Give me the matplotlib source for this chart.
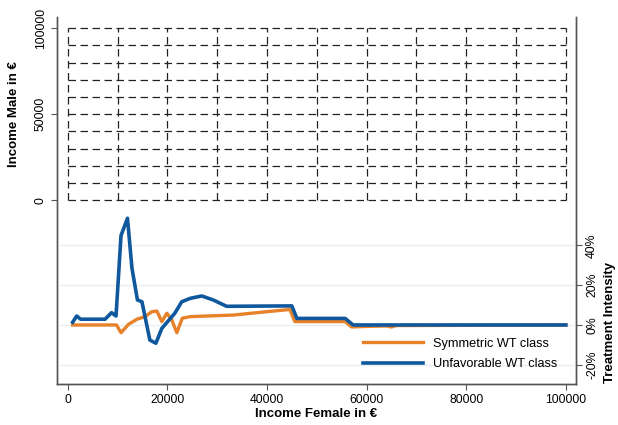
import matplotlib
matplotlib.use("Agg")
import matplotlib.pyplot as plt
import numpy as np
from matplotlib.ticker import FuncFormatter

plt.rcParams['font.family'] = ['Liberation Sans', 'DejaVu Sans']

# income grid (upper part)
grid_vals = np.arange(0, 100001, 10000)

# treatment intensity in %
sym_x = [1000, 9800, 10700, 12200, 13900, 15500, 16900, 17900, 18900, 19900,
         20900, 21900, 23000, 24600, 33300, 40000, 44600, 45600, 55700, 57000,
         60000, 64000, 65000, 66000, 100000]
sym_y = [0, 0, -3.9, 0.3, 2.9, 4.2, 6.7, 7.0, 1.7, 5.9,
         2.5, -3.9, 3.4, 4.2, 5.0, 6.7, 7.8, 1.7, 1.7, -1.0,
         -0.7, -0.5, -1.0, -0.3, 0]

unf_x = [1000, 1800, 2600, 7500, 8800, 9700, 10700, 12000, 12900, 14000,
         14900, 16500, 17700, 18900, 21500, 22900, 24600, 26900, 29200, 31900,
         45000, 46000, 55700, 57300, 100000]
unf_y = [1.4, 4.5, 2.9, 2.9, 6.2, 4.5, 45, 53.7, 28.6, 12.6,
         11.7, -7.6, -9.2, -1.7, 5.9, 11.7, 13.4, 14.6, 12.6, 9.4,
         9.6, 3.3, 3.3, 0, 0]

labels = ['Symmetric WT class', 'Unfavorable WT class']
x_ticks = [0, 20000, 40000, 60000, 80000, 100000]
left_ticks = [0, 50000, 100000]
right_ticks = [-20, 0, 20, 40]

fig = plt.figure(figsize=(6.18, 4.25), dpi=100)
ax = fig.add_axes([0.0927, 0.0965, 0.839, 0.8635])
ax2 = ax.twinx()

spine_col = '#555555'
for a in (ax, ax2):
    a.spines['top'].set_visible(False)
    for s in ('left', 'right', 'bottom'):
        a.spines[s].set_color(spine_col)
        a.spines[s].set_linewidth(1.0)

# dashed income grid
for v in grid_vals:
    ax.plot([0, 100000], [v, v], color='#222222', lw=0.9, dashes=(6, 3.6))
    ax.plot([v, v], [0, 100000], color='#222222', lw=0.9, dashes=(6, 3.6))

ax.set_xlim(-2090, 102000)
ax.set_ylim(-106500, 106400)
ax.set_xticks(x_ticks)
ax.set_yticks(left_ticks)
ax.set_yticklabels([str(t) for t in left_ticks], rotation=90, va='center')
ax.tick_params(axis='both', labelsize=8.8, color=spine_col, length=4, width=0.8)
ax.set_xlabel('Income Female in €', fontsize=9.5, fontweight='bold', labelpad=1)
ax.set_ylabel('Income Male in €', fontsize=9.5, fontweight='bold')
ax.yaxis.set_label_coords(-0.072, 0.736)

# light grid at percent ticks
ax2.set_ylim(-29.7, 155)
for t in right_ticks:
    ax2.axhline(t, color='#e9eff1', lw=1.0, zorder=0)
ax2.plot(sym_x, sym_y, color='#e8822a', lw=2.4, label=labels[0], zorder=3)
ax2.plot(unf_x, unf_y, color='#10589e', lw=2.6, label=labels[1], zorder=4)
ax2.set_yticks(right_ticks)
ax2.yaxis.set_major_formatter(FuncFormatter(lambda v, p: f"{v:.0f}%"))
for lab in ax2.get_yticklabels():
    lab.set_rotation(90)
    lab.set_va('center')
ax2.tick_params(axis='y', labelsize=8.8, color=spine_col, length=4, width=0.8)
ax2.set_ylabel('Treatment Intensity', fontsize=9.5, fontweight='bold')
ax2.yaxis.set_label_coords(1.054, 0.169)

leg = ax2.legend(loc='center', bbox_to_anchor=(0.777, 0.082), frameon=False,
                 fontsize=9.2, handlelength=4.7, handletextpad=0.8,
                 labelspacing=0.65, borderpad=0.2)
leg.set_zorder(5)

fig.savefig('out.png', dpi=100)
